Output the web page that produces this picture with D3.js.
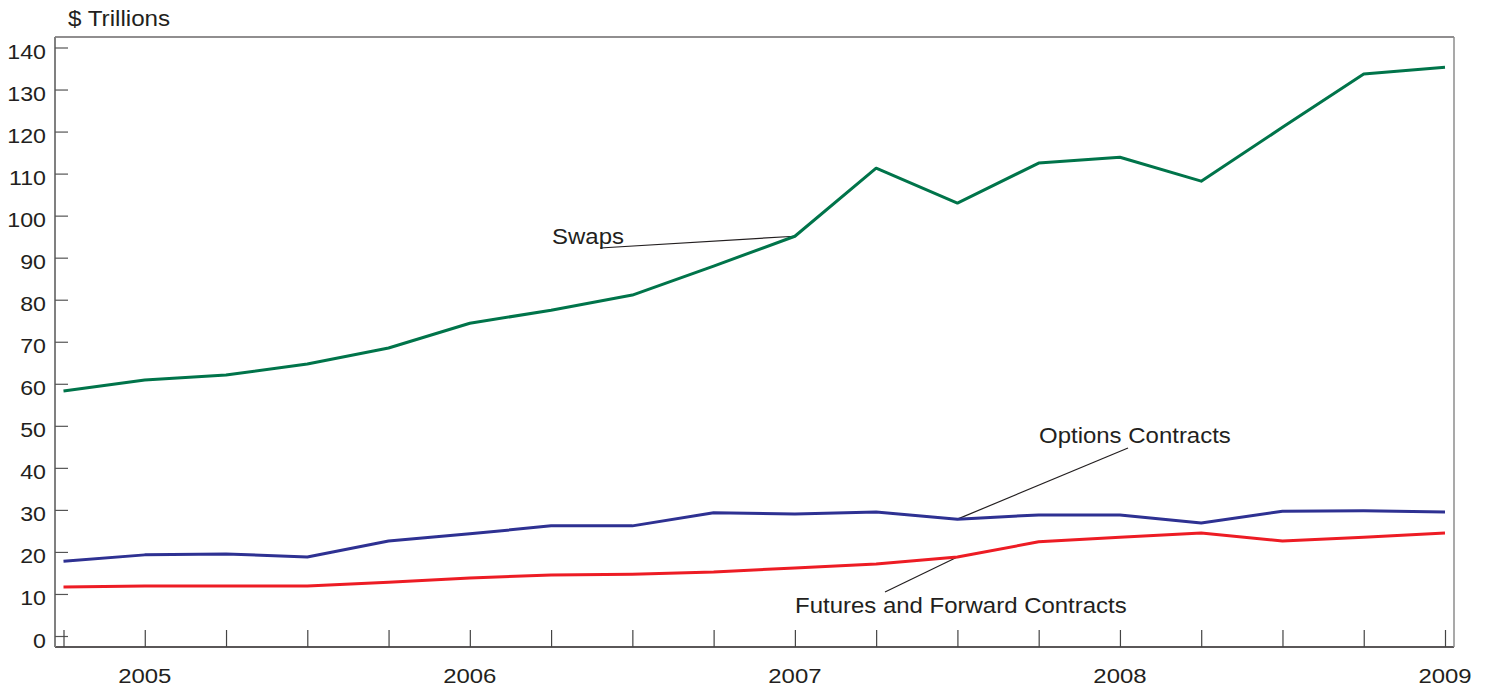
<!DOCTYPE html>
<html>
<head>
<meta charset="utf-8">
<script src="https://cdn.jsdelivr.net/npm/d3@7"></script>
<style>
  body { margin: 0; background: #fff; }
  text { font-family: "Liberation Sans", Arial, sans-serif; fill: #231f20; }
</style>
</head>
<body>
<div id="chart"></div>
<script>
// quarterly observations, 2004Q4 .. 2009Q1
var quarters = ["2004Q4","2005Q1","2005Q2","2005Q3","2005Q4","2006Q1","2006Q2","2006Q3","2006Q4",
                "2007Q1","2007Q2","2007Q3","2007Q4","2008Q1","2008Q2","2008Q3","2008Q4","2009Q1"];
var yearLabels = {"2005Q1": "2005", "2006Q1": "2006", "2007Q1": "2007", "2008Q1": "2008", "2009Q1": "2009"};

var swaps   = [58.3, 60.9, 62.1, 64.7, 68.5, 74.4, 77.5, 81.1, 88.0, 95.1, 111.3, 103.0, 112.5, 113.9, 108.2, 121.0, 133.7, 135.3];
var options = [17.8, 19.3, 19.5, 18.8, 22.6, 24.3, 26.2, 26.2, 29.3, 29.0, 29.5, 27.8, 28.8, 28.8, 26.9, 29.7, 29.8, 29.5];
var futures = [11.65, 11.9, 11.9, 11.9, 12.8, 13.8, 14.5, 14.7, 15.2, 16.2, 17.1, 18.8, 22.4, 23.5, 24.5, 22.6, 23.5, 24.5];

var yTicks = d3.range(0, 141, 10);

var width = 1486, height = 687;
var plot = {left: 55, right: 1454, top: 37, bottom: 647};

var svg = d3.select("#chart").append("svg")
    .attr("width", width)
    .attr("height", height);

var x = d3.scalePoint()
    .domain(quarters)
    .range([63.5, 1445]);

var y = d3.scaleLinear()
    .domain([0, 140])
    .range([636, 47.5]);

// the source font is a bit wider than Liberation Sans, so stretch text horizontally
function wideText(sel, px, py, size, sx) {
  return sel.attr("transform", function(d, i) {
      return "translate(" + px(d, i) + "," + py(d, i) + ") scale(" + sx + ",1)";
    })
    .style("font-size", size + "px");
}

// frame
svg.append("line").attr("x1", plot.left).attr("x2", plot.right).attr("y1", plot.top).attr("y2", plot.top)
  .attr("stroke", "#231f20").attr("stroke-width", 1.2);
svg.append("line").attr("x1", plot.left).attr("x2", plot.right).attr("y1", plot.bottom).attr("y2", plot.bottom)
  .attr("stroke", "#231f20").attr("stroke-width", 1.5);
svg.append("line").attr("x1", plot.left).attr("x2", plot.left).attr("y1", plot.top).attr("y2", plot.bottom)
  .attr("stroke", "#808080").attr("stroke-width", 2);
svg.append("line").attr("x1", plot.right).attr("x2", plot.right).attr("y1", plot.top).attr("y2", plot.bottom)
  .attr("stroke", "#8c8c8c").attr("stroke-width", 1.5);

// y axis
var yAxis = svg.append("g")
    .attr("transform", "translate(" + plot.left + ",0)")
    .call(d3.axisRight(y).tickValues(yTicks).tickSize(13).tickFormat(""));
yAxis.select(".domain").remove();
yAxis.selectAll("line").attr("stroke", "#555").attr("stroke-width", 1.2);

svg.selectAll(".ylab")
  .data(yTicks)
  .enter()
  .append("text")
    .attr("class", "ylab")
    .attr("text-anchor", "end")
    .text(function(d) { return d; })
    .call(wideText, function() { return 46; }, function(d) { return y(d) + 11.5; }, 20, 1.16);

// x axis
var xAxis = svg.append("g")
    .attr("transform", "translate(0," + plot.bottom + ")")
    .call(d3.axisTop(x).tickSize(17).tickFormat(""));
xAxis.select(".domain").remove();
xAxis.selectAll("line").attr("stroke", "#444").attr("stroke-width", 1.2);

svg.selectAll(".xlab")
  .data(quarters.filter(function(q) { return yearLabels[q]; }))
  .enter()
  .append("text")
    .attr("class", "xlab")
    .attr("text-anchor", "middle")
    .text(function(d) { return yearLabels[d]; })
    .call(wideText, function(d) { return x(d); }, function() { return 683; }, 21, 1.14);

svg.append("text")
    .text("$ Trillions")
    .call(wideText, function() { return 68; }, function() { return 26; }, 22, 1.1);

// series
var series = [
  {name: "Swaps", values: swaps, color: "#00744a"},
  {name: "Options Contracts", values: options, color: "#2e3192"},
  {name: "Futures and Forward Contracts", values: futures, color: "#ed1c24"}
];

var line = d3.line()
    .x(function(d, i) { return x(quarters[i]); })
    .y(function(d) { return y(d); });

// leader lines + labels (anchored to a data point)
var notes = [
  {text: "Swaps", series: swaps, idx: 9, tx: 552, ty: 244, lx: 600, ly: 248},
  {text: "Options Contracts", series: options, idx: 11, tx: 1039, ty: 443, lx: 1128, ly: 448},
  {text: "Futures and Forward Contracts", series: futures, idx: 11, tx: 795, ty: 613, lx: 885, ly: 592}
];

svg.selectAll(".leader")
  .data(notes)
  .enter()
  .append("line")
    .attr("class", "leader")
    .attr("x1", function(d) { return d.lx; })
    .attr("y1", function(d) { return d.ly; })
    .attr("x2", function(d) { return x(quarters[d.idx]); })
    .attr("y2", function(d) { return y(d.series[d.idx]); })
    .attr("stroke", "#231f20")
    .attr("stroke-width", 1.2);

svg.selectAll(".series")
  .data(series)
  .enter()
  .append("path")
    .attr("class", "series")
    .attr("d", function(d) { return line(d.values); })
    .attr("fill", "none")
    .attr("stroke", function(d) { return d.color; })
    .attr("stroke-width", 3)
    .attr("stroke-linejoin", "round");

svg.selectAll(".note")
  .data(notes)
  .enter()
  .append("text")
    .attr("class", "note")
    .text(function(d) { return d.text; })
    .call(wideText, function(d) { return d.tx; }, function(d) { return d.ty; }, 22, 1.09);
</script>
</body>
</html>
